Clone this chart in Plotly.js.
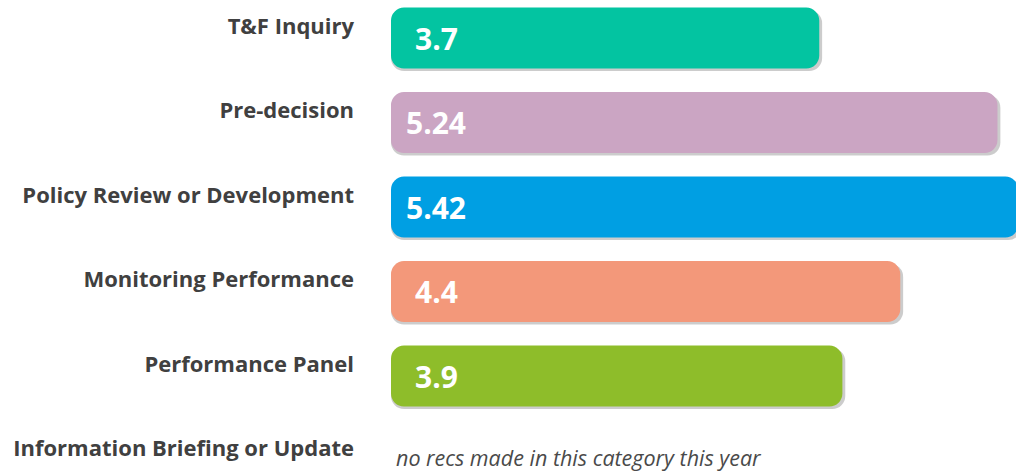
<!DOCTYPE html>
<html>
<head>
<meta charset="utf-8">
<script src="https://cdn.plot.ly/plotly-3.0.1.min.js"></script>
<style>html,body{margin:0;padding:0;background:#fff;}#chart{width:1016px;height:471px;}</style>
</head>
<body>
<div id="chart"></div>
<script>
const categories = ["T&F Inquiry", "Pre-decision", "Policy Review or Development", "Monitoring Performance", "Performance Panel", "Information Briefing or Update"];
const values = [3.7, 5.24, 5.42, 4.4, 3.9, null];
const valueLabels = ["3.7", "5.24", "5.42", "4.4", "3.9", ""];
const colors = ["#03c4a1", "#cba5c3", "#009fe3", "#f3987a", "#8ebd2a", "#ffffff"];
const noteText = "no recs made in this category this year";

const barWidth = 0.72;
const shadowShift = 0.03;
const radius = 13;

const zeros = values.map(v => v === null ? null : 0);

const shadow = {
  type: "bar", orientation: "h",
  y: categories, x: values.map(v => v === null ? null : v + 0.025), base: zeros,
  width: barWidth, offset: -barWidth / 2 + shadowShift,
  marker: {color: "rgba(0,0,0,0.2)", cornerradius: radius, line: {width: 0}},
  hoverinfo: "skip", showlegend: false
};
const bars = {
  type: "bar", orientation: "h",
  y: categories, x: values, base: zeros,
  width: barWidth, offset: -barWidth / 2,
  marker: {color: colors, cornerradius: radius, line: {width: 0}},
  hoverinfo: "skip", showlegend: false
};

const annotations = categories.map((c, i) => ({
  x: 0, y: c, xref: "x", yref: "y", text: valueLabels[i],
  showarrow: false, xanchor: "center", yanchor: "middle", xshift: 45,
  font: {family: "Open Sans, sans-serif", size: 30, color: "#ffffff", weight: 700}
})).filter(a => a.text !== "");
annotations.push({
  x: 0, y: categories[5], xref: "x", yref: "y", text: noteText,
  showarrow: false, xanchor: "left", yanchor: "middle", xshift: 3, yshift: 3,
  font: {family: "Open Sans, sans-serif", size: 21.5, color: "#4a4a4a", style: "italic"}
});

const layout = {
  width: 1016, height: 471,
  margin: {l: 391, r: 0, t: 0, b: 0, pad: 0},
  paper_bgcolor: "#ffffff", plot_bgcolor: "#ffffff",
  barmode: "overlay",
  showlegend: false,
  xaxis: {range: [0, 5.40], visible: false, fixedrange: true},
  yaxis: {
    type: "category", range: [5.124, -0.45],
    showgrid: false, zeroline: false, showline: false, ticks: "",
    ticklabelstandoff: 36, ticklabelshift: 12,
    tickfont: {family: "Open Sans, sans-serif", size: 22, color: "#404040", weight: 700}
  },
  annotations: annotations
};

Plotly.newPlot("chart", [shadow, bars], layout, {displayModeBar: false, staticPlot: true});
</script>
</body>
</html>
